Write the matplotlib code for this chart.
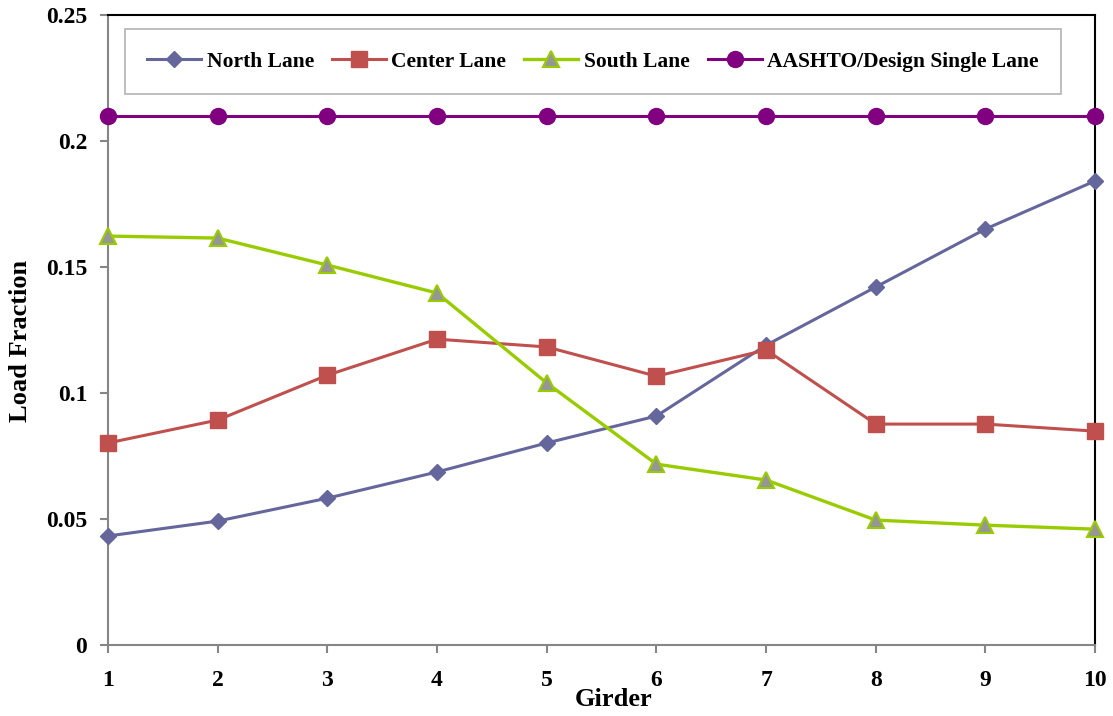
import matplotlib.pyplot as plt

# Daten
girder = [1, 2, 3, 4, 5, 6, 7, 8, 9, 10]
north = [0.0433, 0.0492, 0.0583, 0.0687, 0.0802, 0.0909, 0.1190, 0.1421, 0.1651, 0.1842]
center = [0.0802, 0.0893, 0.1071, 0.1214, 0.1183, 0.1067, 0.1171, 0.0877, 0.0877, 0.0849]
south = [0.1623, 0.1615, 0.1508, 0.1397, 0.1040, 0.0718, 0.0655, 0.0496, 0.0476, 0.0460]
aashto = [0.21] * 10

plt.rcParams['font.family'] = 'Liberation Serif'
plt.rcParams['font.weight'] = 'bold'

fig = plt.figure(figsize=(11.13, 7.16), dpi=100)
ax = fig.add_axes([0.097, 0.099, 0.887, 0.880])

ax.plot(girder, north, color='#65669C', lw=2.2, marker='D', ms=8.5, label='North Lane',
        clip_on=False, zorder=3)
ax.plot(girder, center, color='#C0504D', lw=2.2, marker='s', ms=11, label='Center Lane',
        clip_on=False, zorder=3)
ax.plot(girder, south, color='#99CC00', lw=2.4, marker='^', ms=11.5, mfc='#969696',
        mec='#99CC00', mew=1.5, label='South Lane', clip_on=False, zorder=3)
ax.plot(girder, aashto, color='#800080', lw=2.2, marker='o', ms=11.5,
        label='AASHTO/Design Single Lane', clip_on=False, zorder=3)

ax.set_xlim(1, 10)
ax.set_ylim(0, 0.25)
ax.set_xticks(girder)
ax.set_yticks([0, 0.05, 0.1, 0.15, 0.2, 0.25])
ax.set_yticklabels(['0', '0.05', '0.1', '0.15', '0.2', '0.25'])

for s in ['left', 'bottom']:
    ax.spines[s].set_color('#868686')
    ax.spines[s].set_linewidth(1.5)
for s in ['top', 'right']:
    ax.spines[s].set_color('black')
    ax.spines[s].set_linewidth(1.5)
ax.tick_params(axis='both', colors='#868686', length=6, width=1.5, labelsize=17,
               labelcolor='black')
ax.tick_params(axis='x', pad=12)
ax.tick_params(axis='y', pad=9)
for lab in ax.get_xticklabels() + ax.get_yticklabels():
    lab.set_fontweight('bold')

ax.set_xlabel('Girder', fontsize=19, fontweight='bold', va='center')
ax.xaxis.set_label_coords(0.512, -0.087)
ax.set_ylabel('Load Fraction', fontsize=19, fontweight='bold', va='center')
ax.yaxis.set_label_coords(-0.089, 0.483)

leg = ax.legend(loc='upper left', bbox_to_anchor=(0.017, 0.978), ncol=4, fontsize=15.5,
                frameon=True, fancybox=False, handlelength=2.5, columnspacing=0.85,
                handletextpad=0.25, borderpad=1.05, borderaxespad=0)
leg.get_frame().set_edgecolor('#A0A0A0')
leg.get_frame().set_linewidth(1.2)
for t in leg.get_texts():
    t.set_fontweight('bold')

plt.savefig('out.png')
